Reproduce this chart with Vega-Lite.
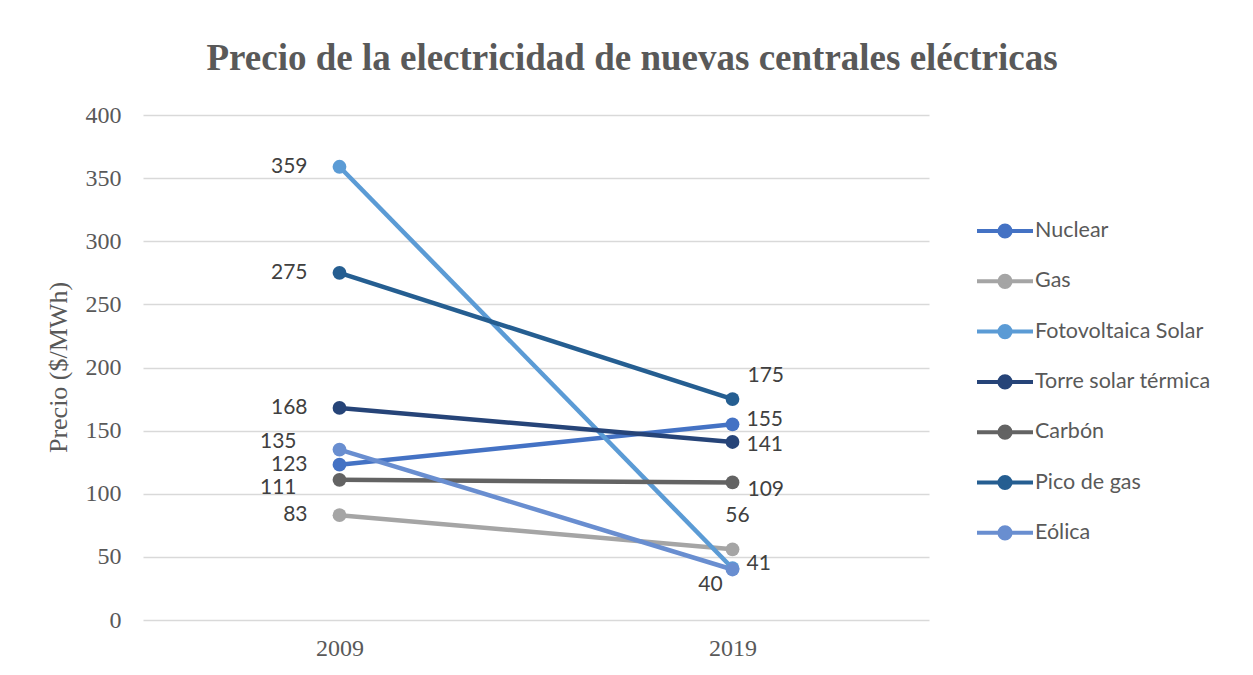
{
  "$schema": "https://vega.github.io/schema/vega-lite/v6.json",
  "autosize": {"type": "none"},
  "width": 786,
  "height": 505,
  "padding": {"left": 143, "top": 115, "right": 324, "bottom": 55},
  "background": "white",
  "config": {
    "view": {"stroke": null},
    "font": "Liberation Serif"
  },
  "title": {
    "text": "Precio de la electricidad de nuevas centrales eléctricas",
    "font": "Liberation Serif",
    "fontSize": 37,
    "fontWeight": "bold",
    "color": "#595959",
    "anchor": "middle",
    "dx": 96,
    "baseline": "alphabetic",
    "offset": -4
  },
  "data": {
    "values": [
      {"serie": "Nuclear", "year": "2009", "precio": 123},
      {"serie": "Nuclear", "year": "2019", "precio": 155},
      {"serie": "Gas", "year": "2009", "precio": 83},
      {"serie": "Gas", "year": "2019", "precio": 56},
      {"serie": "Fotovoltaica Solar", "year": "2009", "precio": 359},
      {"serie": "Fotovoltaica Solar", "year": "2019", "precio": 41},
      {"serie": "Torre solar térmica", "year": "2009", "precio": 168},
      {"serie": "Torre solar térmica", "year": "2019", "precio": 141},
      {"serie": "Carbón", "year": "2009", "precio": 111},
      {"serie": "Carbón", "year": "2019", "precio": 109},
      {"serie": "Pico de gas", "year": "2009", "precio": 275},
      {"serie": "Pico de gas", "year": "2019", "precio": 175},
      {"serie": "Eólica", "year": "2009", "precio": 135},
      {"serie": "Eólica", "year": "2019", "precio": 40}
    ]
  },
  "encoding": {
    "x": {
      "field": "year", "type": "ordinal",
      "scale": {"type": "point", "padding": 0.5},
      "axis": {
        "title": null, "labelAngle": 0, "domain": false, "ticks": false, "grid": false,
        "labelFont": "Liberation Serif", "labelFontSize": 24, "labelColor": "#595959",
        "labelPadding": 16
      }
    },
    "y": {
      "field": "precio", "type": "quantitative",
      "scale": {"domain": [0, 400]},
      "axis": {
        "title": "Precio ($/MWh)",
        "titleFont": "Liberation Serif", "titleFontSize": 26, "titleFontWeight": "normal",
        "titleColor": "#595959", "titleX": -72, "titleY": 252, "titleAngle": -90,
        "titleBaseline": "bottom", "titleAnchor": "middle",
        "values": [0, 50, 100, 150, 200, 250, 300, 350, 400],
        "domain": false, "ticks": false,
        "gridColor": "#D9D9D9", "gridWidth": 1.5,
        "labelFont": "Liberation Serif", "labelFontSize": 24, "labelColor": "#595959",
        "labelPadding": 22
      }
    }
  },
  "layer": [
    {
      "mark": {"type": "line", "strokeWidth": 4.5},
      "encoding": {
        "color": {
          "field": "serie", "type": "nominal",
          "sort": ["Nuclear", "Gas", "Fotovoltaica Solar", "Torre solar térmica", "Carbón", "Pico de gas", "Eólica"],
          "scale": {
            "domain": ["Nuclear", "Gas", "Fotovoltaica Solar", "Torre solar térmica", "Carbón", "Pico de gas", "Eólica"],
            "range": ["#4472C4", "#A5A5A5", "#5B9BD5", "#264478", "#636363", "#255E91", "#698ED0"]
          },
          "legend": {
            "orient": "none", "legendX": 846, "legendY": 100,
            "title": null, "padding": 0,
            "symbolType": "M-2,0L2,0M0.4,0A0.4,0.4,0,1,1,-0.4,0A0.4,0.4,0,1,1,0.4,0Z",
            "symbolSize": 784, "symbolStrokeWidth": 4, "symbolOpacity": 1,
            "labelFont": "Lato", "labelFontSize": 21.5, "labelColor": "#595959",
            "labelOffset": 14, "rowPadding": 20.3, "labelLimit": 300,
            "encode": {
              "symbols": {"update": {"stroke": {"scale": "color", "field": "value"}, "fill": {"scale": "color", "field": "value"}, "strokeWidth": {"value": 4}, "opacity": {"value": 1}}}
            }
          }
        }
      }
    },
    {
      "mark": {"type": "point", "filled": true, "opacity": 1, "size": 190},
      "encoding": {
        "color": {"field": "serie", "type": "nominal"}
      }
    },
    {
      "transform": [{"filter": "datum.year == '2009' && datum.serie != 'Eólica' && datum.serie != 'Carbón'"}],
      "mark": {"type": "text", "align": "right", "dx": -32, "font": "Lato", "fontSize": 21, "color": "#404040"},
      "encoding": {"text": {"field": "precio"}}
    },
    {
      "transform": [{"filter": "datum.year == '2009' && datum.serie == 'Eólica'"}],
      "mark": {"type": "text", "align": "right", "dx": -43, "dy": -8, "font": "Lato", "fontSize": 21, "color": "#404040"},
      "encoding": {"text": {"field": "precio"}}
    },
    {
      "transform": [{"filter": "datum.year == '2009' && datum.serie == 'Carbón'"}],
      "mark": {"type": "text", "align": "right", "dx": -43, "dy": 8, "font": "Lato", "fontSize": 21, "color": "#404040"},
      "encoding": {"text": {"field": "precio"}}
    },
    {
      "transform": [{"filter": "datum.year == '2019' && (datum.serie == 'Nuclear' || datum.serie == 'Fotovoltaica Solar')"}],
      "mark": {"type": "text", "align": "left", "dx": 14, "dy": -4, "font": "Lato", "fontSize": 21, "color": "#404040"},
      "encoding": {"text": {"field": "precio"}}
    },
    {
      "transform": [{"filter": "datum.year == '2019' && datum.serie == 'Torre solar térmica'"}],
      "mark": {"type": "text", "align": "left", "dx": 14, "dy": 3, "font": "Lato", "fontSize": 21, "color": "#404040"},
      "encoding": {"text": {"field": "precio"}}
    },
    {
      "transform": [{"filter": "datum.year == '2019' && datum.serie == 'Pico de gas'"}],
      "mark": {"type": "text", "align": "left", "dx": 15, "dy": -23, "font": "Lato", "fontSize": 21, "color": "#404040"},
      "encoding": {"text": {"field": "precio"}}
    },
    {
      "transform": [{"filter": "datum.year == '2019' && datum.serie == 'Carbón'"}],
      "mark": {"type": "text", "align": "left", "dx": 15, "dy": 8, "font": "Lato", "fontSize": 21, "color": "#404040"},
      "encoding": {"text": {"field": "precio"}}
    },
    {
      "transform": [{"filter": "datum.year == '2019' && datum.serie == 'Gas'"}],
      "mark": {"type": "text", "align": "center", "dx": 5, "dy": -33, "font": "Lato", "fontSize": 21, "color": "#404040"},
      "encoding": {"text": {"field": "precio"}}
    },
    {
      "transform": [{"filter": "datum.year == '2019' && datum.serie == 'Eólica'"}],
      "mark": {"type": "text", "align": "center", "dx": -22, "dy": 15, "font": "Lato", "fontSize": 21, "color": "#404040"},
      "encoding": {"text": {"field": "precio"}}
    }
  ]
}
